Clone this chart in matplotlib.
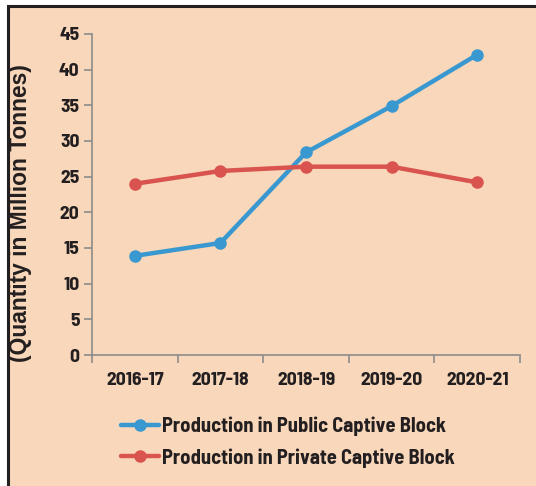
import matplotlib
matplotlib.use("Agg")
import matplotlib.pyplot as plt
from matplotlib.patches import Rectangle
from matplotlib import font_manager as fm

years = ["2016-17", "2017-18", "2018-19", "2019-20", "2020-21"]
public = [13.9, 15.7, 28.4, 34.9, 42.1]
private = [24.0, 25.8, 26.4, 26.4, 24.2]
yticks = [0, 5, 10, 15, 20, 25, 30, 35, 40, 45]


def pick_bold(cands):
    have = {}
    for f in fm.fontManager.ttflist:
        w = f.weight if isinstance(f.weight, int) else (700 if "bold" in str(f.weight) else 400)
        have.setdefault(f.name, set()).add(w)
    for c in cands:
        if c in have and any(w >= 700 for w in have[c]):
            return c
    return "DejaVu Sans"


NARROW = [pick_bold(["Liberation Sans Narrow", "Archivo Narrow", "Arimo Narrow",
                     "Barlow Semi Condensed", "Asap Condensed"]), "DejaVu Sans"]

W, H = 536, 486
fig = plt.figure(figsize=(W / 100, H / 100), dpi=100)
fig.patch.set_facecolor("white")
bg = "#F8D7BA"
fig.patches.append(Rectangle((8 / W, -0.05), 1.1, (H - 6) / H + 0.05, transform=fig.transFigure,
                             facecolor=bg, edgecolor="#231F20", linewidth=2.2, zorder=-10))

ax = fig.add_axes([92 / W, 1 - 355 / H, (520 - 92) / W, (355 - 34) / H])
ax.set_facecolor("none")
ax.set_zorder(5)
x = range(len(years))
blue = "#3A98D1"
red = "#D9534F"
ax.plot(x, public, color=blue, lw=3.2, marker="o", ms=8, label="Production in Public Captive Block",
        solid_capstyle="round")
ax.plot(x, private, color=red, lw=3.2, marker="o", ms=8, label="Production in Private Captive Block",
        solid_capstyle="round")
ax.set_xlim(-0.5, 4.5)
ax.set_ylim(0, 45)
ax.set_yticks(yticks)
ax.set_xticks([i + 0.5 for i in range(-1, 5)])
ax.set_xticklabels([])
ax.set_xticks(list(x), minor=True)
ax.set_xticklabels(years, minor=True)
ax.tick_params(axis="x", which="minor", length=0, pad=12)
ax.tick_params(axis="x", which="major", length=6, color="#8C8C8C", width=1.2)
ax.tick_params(axis="y", length=6, color="#8C8C8C", width=1.2, pad=3)
for lab in ax.get_yticklabels() + ax.get_xticklabels(minor=True):
    lab.set_fontfamily(NARROW)
    lab.set_fontweight("bold")
    lab.set_fontsize(14)
    lab.set_color("#231F20")
for s in ["top", "right"]:
    ax.spines[s].set_visible(False)
for s in ["left", "bottom"]:
    ax.spines[s].set_color("#8C8C8C")
    ax.spines[s].set_linewidth(1.2)

fig.text(21 / W, 1 - 213 / H, "(Quantity in Million Tonnes)", rotation=90, ha="center", va="center",
         fontsize=16.4, fontweight="bold", family=["Liberation Sans", "DejaVu Sans"], color="#231F20")

leg = fig.legend(loc="center", bbox_to_anchor=(288 / W, 1 - 442 / H), frameon=False,
                 prop={"family": NARROW, "weight": "bold", "size": 14.8},
                 handlelength=1.85, handletextpad=0.12, labelspacing=0.6, labelcolor="#231F20")

fig.savefig("out.png", dpi=100, facecolor=fig.get_facecolor())
